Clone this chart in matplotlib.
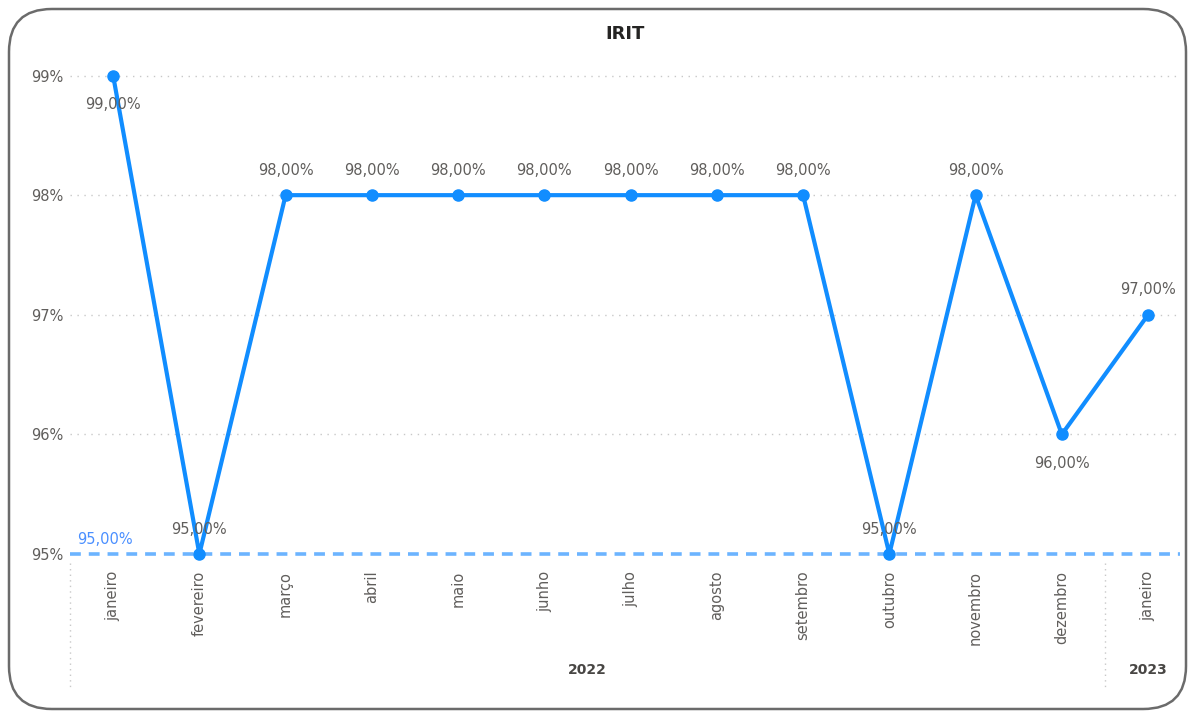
import matplotlib
matplotlib.use("Agg")
import matplotlib.pyplot as plt
from matplotlib.patches import FancyBboxPatch
from matplotlib.lines import Line2D
from matplotlib.ticker import FuncFormatter

months = ["janeiro", "fevereiro", "março", "abril", "maio", "junho", "julho",
          "agosto", "setembro", "outubro", "novembro", "dezembro", "janeiro"]
years = ["2022"] * 12 + ["2023"]
values = [99, 95, 98, 98, 98, 98, 98, 98, 98, 95, 98, 96, 97]
label_side = ["below", "above", "above", "above", "above", "above", "above",
              "above", "above", "above", "above", "below", "above"]
target = 95
yticks = [95, 96, 97, 98, 99]

plt.rcParams['font.family'] = ['DejaVu Sans']

W, H = 1189, 711
fig = plt.figure(figsize=(W / 100, H / 100), dpi=100)

# rounded border
border = FancyBboxPatch((9 / W, 2 / H), (1177 / W), (700 / H),
                        boxstyle="round,pad=0,rounding_size=0.036",
                        transform=fig.transFigure, fill=False,
                        edgecolor="#6b6b6b", linewidth=1.8,
                        mutation_aspect=W / H)
fig.patches.append(border)

ax = fig.add_axes([70 / W, 1 - 554 / H, (1180 - 70) / W, (554 - 60) / H])
x = list(range(len(values)))
ax.set_xlim(-0.5, 12.37)
ax.set_ylim(95, 99.13)

for s in ax.spines.values():
    s.set_visible(False)

# gridlines
for yv in yticks[1:]:
    ax.axhline(yv, color="#c8c8c8", linestyle=(0, (1, 4)), linewidth=1.0, zorder=0)

# target line
ax.axhline(target, color="#6cb4ff", linestyle=(0, (3, 2.2)), linewidth=2.6, zorder=1,
           clip_on=False)
ax.text(-0.42, target + 0.06, "95,00%", color="#4a8fff", fontsize=10.5,
        ha="left", va="bottom")

ax.plot(x, values, color="#118dff", linewidth=3, marker="o", markersize=8,
        zorder=3, clip_on=False)

for xi, v, side in zip(x, values, label_side):
    txt = f"{v:.2f}".replace(".", ",") + "%"
    off = 18 if side == "above" else -21
    ax.annotate(txt, (xi, v), xytext=(0, off), textcoords="offset points",
                ha="center", va="center", fontsize=10.5, color="#605e5c", zorder=4)

ax.set_yticks(yticks)
ax.yaxis.set_major_formatter(FuncFormatter(lambda v, p: f"{int(v)}%"))
ax.tick_params(axis="y", length=0, pad=5, labelsize=10.5, labelcolor="#605e5c")

ax.set_xticks(x)
ax.set_xticklabels(months, rotation=90, fontsize=10.5, color="#605e5c", va="top")
ax.tick_params(axis="x", length=0, pad=12)

ax.set_title("IRIT", fontsize=13, color="#252423", fontweight="bold", pad=15)

# hierarchy: year labels and separators
trans = ax.get_xaxis_transform()
yr_y = -(670 - 554) / (554 - 60)
sep_top = -(563 - 554) / (554 - 60)
sep_bot = -(690 - 554) / (554 - 60)
unique_years = []
for yv in years:
    if yv not in unique_years:
        unique_years.append(yv)
bounds = [-0.5]
for uy in unique_years:
    idx = [i for i, yy in enumerate(years) if yy == uy]
    lo, hi = idx[0] - 0.5, idx[-1] + 0.5
    ax.text((lo + hi) / 2 if hi < 12 else idx[0], yr_y, uy, transform=trans,
            ha="center", va="center", fontsize=10, color="#484644",
            fontweight="bold", clip_on=False)
    bounds.append(hi)
for b in bounds[:-1]:
    ax.add_line(Line2D([b, b], [sep_top, sep_bot], transform=trans,
                       color="#c8c8c8", linestyle=(0, (1, 3)), linewidth=1.0,
                       clip_on=False))

fig.savefig("out.png", dpi=100)
